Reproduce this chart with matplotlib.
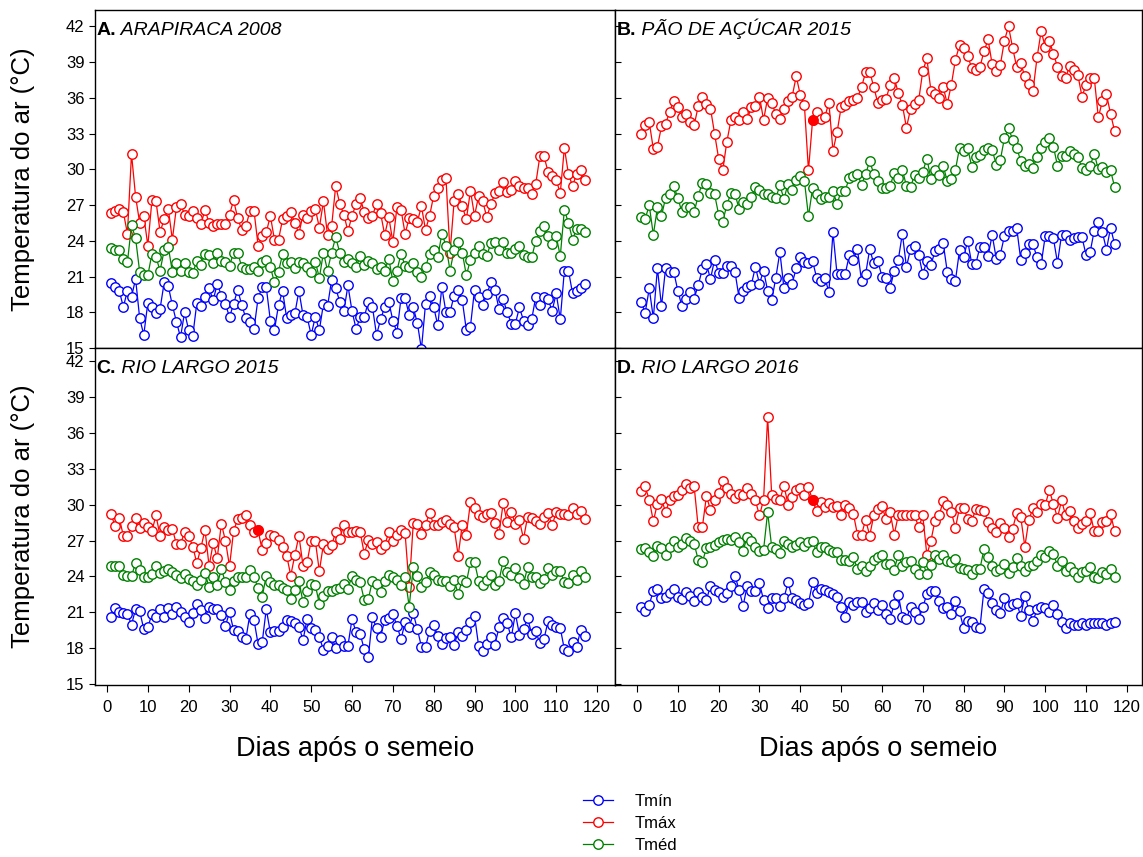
import matplotlib.pyplot as plt
import numpy as np

plt.rcParams['font.family'] = ['Liberation Sans', 'DejaVu Sans']

# dias apos o semeio
dias = np.arange(1, 118)

# A. Arapiraca 2008
a_tmax = [26.3, 26.5, 26.7, 26.4, 24.6, 31.3, 27.7, 25.5, 26.1, 23.6,
          27.4, 27.3, 24.75, 25.8, 26.7, 24.1, 26.8, 27.1, 26.2, 26.1,
          26.5, 25.9, 25.4, 26.6, 25.5, 25.2, 25.4, 25.4, 25.4, 26.2,
          27.4, 25.9, 24.9, 25.2, 26.5, 26.5, 23.6, 24.4, 24.7, 26.1,
          24.1, 24.1, 25.8, 26.1, 26.4, 25.5, 24.6, 26.2, 25.9, 26.5,
          26.7, 25.1, 27.3, 24.5, 25.2, 28.6, 27.1, 26.2, 24.8, 26.1,
          27.1, 27.6, 26.4, 25.9, 26.1, 27.1, 26.3, 24.5, 26.0, 23.9,
          26.8, 26.6, 24.6, 25.9, 25.8, 25.6, 26.9, 24.9, 26.1, 27.8,
          28.4, 29.1, 29.3, 23.0, 27.3, 27.95, 26.9, 25.8, 28.2, 26.1,
          27.75, 27.3, 26.0, 27.05, 28.0, 28.2, 28.9, 28.1, 28.3, 29.0,
          28.6, 28.4, 28.4, 27.9, 28.8, 31.1, 31.1, 29.8, 29.4, 29.1,
          28.0, 31.8, 29.6, 28.6, 29.6, 29.9, 29.1]
a_tmed = [23.4, 23.25, 23.25, 22.5, 22.2, 25.3, 24.2, 21.4, 21.1, 21.1,
          22.9, 22.6, 21.5, 23.2, 23.5, 21.4, 22.1, 21.5, 22.1, 21.4,
          21.3, 22.3, 22.0, 22.9, 22.8, 22.1, 23.0, 22.3, 22.2, 21.9,
          23.0, 23.0, 21.8, 21.6, 21.6, 21.8, 21.5, 22.25, 22.4, 21.8,
          20.5, 21.4, 22.9, 22.1, 22.2, 21.7, 22.2, 22.1, 21.8, 21.4,
          22.25, 20.9, 23.0, 21.5, 23.0, 24.3, 23.0, 22.2, 22.5, 22.1,
          21.8, 22.7, 22.0, 22.3, 22.1, 21.6, 21.8, 21.5, 22.5, 20.6,
          21.5, 22.9, 21.9, 21.8, 22.1, 21.4, 21.0, 21.8, 22.9, 23.2,
          22.6, 24.6, 23.6, 21.5, 23.2, 23.9, 23.0, 21.1, 22.4, 23.0,
          23.6, 22.9, 22.75, 23.8, 23.9, 23.25, 23.9, 23.0, 23.0, 23.3,
          23.6, 22.8, 22.6, 22.6, 24.0, 24.8, 25.2, 24.4, 23.7, 24.4,
          22.7, 26.6, 25.5, 24.1, 25.0, 25.0, 24.7]
a_tmin = [20.45, 20.1, 19.8, 18.45, 19.8, 19.3, 20.8, 17.5, 16.1, 18.8,
          18.4, 17.9, 18.3, 20.5, 20.2, 18.6, 17.2, 15.9, 18.0, 16.5,
          16.0, 18.8, 18.5, 19.3, 20.0, 19.0, 20.4, 19.4, 18.7, 17.6,
          18.7, 19.9, 18.6, 17.5, 17.2, 16.6, 19.2, 20.1, 20.1, 17.3,
          16.5, 18.6, 19.8, 17.5, 17.8, 17.9, 19.8, 17.75, 17.6, 16.1,
          17.6, 16.5, 18.7, 18.5, 20.7, 20.0, 18.9, 18.1, 20.25, 18.1,
          16.6, 17.6, 17.6, 18.9, 18.45, 16.1, 17.4, 18.45, 18.9, 17.3,
          16.3, 19.2, 19.2, 17.75, 18.4, 17.1, 14.9, 18.7, 19.4, 18.45,
          16.9, 20.1, 18.0, 18.0, 19.4, 19.9, 19.0, 16.5, 16.8, 19.9,
          19.3, 18.6, 19.5, 20.5, 19.9, 18.25, 19.1, 18.0, 17.05, 17.05,
          18.4, 17.3, 16.9, 17.4, 19.3, 18.6, 19.3, 19.1, 18.1, 19.6,
          17.4, 21.5, 21.5, 19.6, 19.8, 20.0, 20.4]

# B. Pao de Acucar 2015
b_tmax = [33.0, 33.7, 33.96, 31.7, 31.9, 33.6, 33.8, 34.85, 35.75, 35.2,
          34.35, 34.6, 33.95, 33.7, 35.3, 36.1, 35.5, 35.1, 33.0, 30.9,
          29.9, 32.3, 34.1, 34.35, 34.1, 34.8, 34.2, 35.2, 35.3, 36.1,
          34.15, 35.97, 35.6, 34.6, 34.25, 35.05, 35.7, 36.1, 37.8, 36.25,
          35.4, 29.9, 34.1, 34.85, 34.2, 34.4, 35.6, 31.55, 33.1, 35.2,
          35.4, 35.7, 35.8, 36.0, 36.9, 38.15, 38.2, 36.9, 35.55, 35.8,
          35.9, 37.1, 37.7, 36.4, 35.4, 33.5, 35.05, 35.5, 35.8, 38.25,
          39.3, 36.6, 36.3, 35.97, 36.9, 35.5, 37.1, 39.2, 40.4, 40.16,
          39.5, 38.5, 38.3, 38.6, 39.9, 40.9, 38.8, 38.26, 38.76, 40.8,
          42.0, 40.2, 38.6, 38.9, 37.8, 37.2, 36.6, 39.4, 41.6, 40.24,
          40.8, 39.7, 38.6, 37.8, 37.7, 38.7, 38.3, 37.9, 36.1, 37.1,
          37.7, 37.7, 34.35, 35.74, 36.3, 34.65, 33.2]
b_tmed = [25.97, 25.85, 26.97, 24.5, 26.8, 26.1, 27.6, 27.9, 28.6, 27.6,
          26.4, 26.8, 26.8, 26.4, 27.8, 28.85, 28.8, 28.0, 27.9, 26.2,
          25.6, 27.0, 28.0, 27.9, 26.7, 27.25, 27.1, 27.7, 28.5, 28.3,
          27.9, 27.9, 27.7, 27.6, 28.65, 27.5, 28.8, 28.3, 29.1, 29.4,
          29.05, 26.05, 28.4, 27.9, 27.5, 27.65, 27.65, 28.15, 27.1, 28.15,
          28.2, 29.3, 29.4, 29.6, 28.7, 29.6, 30.7, 29.6, 29.0, 28.4,
          28.4, 28.6, 29.7, 29.3, 29.96, 28.6, 28.5, 29.55, 29.3, 29.8,
          30.9, 29.2, 29.9, 29.55, 30.3, 29.0, 29.2, 29.96, 31.8, 31.55,
          31.8, 30.2, 31.0, 31.2, 31.6, 31.8, 31.6, 30.4, 30.8, 32.6,
          33.45, 32.5, 31.8, 30.7, 30.3, 30.45, 30.15, 31.0, 31.8, 32.3,
          32.6, 31.9, 30.3, 31.1, 31.1, 31.5, 31.3, 31.0, 30.15, 29.96,
          30.3, 31.3, 30.0, 30.2, 29.8, 29.9, 28.5]
b_tmin = [18.9, 17.95, 20.0, 17.5, 21.7, 18.5, 21.7, 21.4, 21.4, 19.8,
          18.5, 19.15, 19.7, 19.15, 20.3, 21.6, 22.05, 20.8, 22.4, 21.3,
          21.3, 21.85, 21.85, 21.4, 19.2, 19.8, 20.1, 20.3, 21.8, 20.4,
          21.5, 19.8, 19.0, 20.9, 23.06, 20.0, 20.9, 20.4, 21.7, 22.6,
          22.2, 22.1, 22.3, 20.9, 20.6, 20.9, 19.7, 24.7, 21.2, 21.2,
          21.2, 22.8, 22.4, 23.3, 20.6, 21.2, 23.3, 22.1, 22.3, 21.0,
          20.9, 20.0, 21.5, 22.4, 24.6, 21.8, 23.3, 23.6, 22.8, 21.2,
          22.3, 22.0, 23.1, 23.3, 23.8, 21.4, 20.75, 20.66, 23.2, 22.6,
          24.0, 22.05, 22.05, 23.5, 23.45, 22.7, 24.5, 22.5, 22.84, 24.4,
          24.85, 24.8, 25.1, 22.4, 23.0, 23.7, 23.7, 22.6, 22.05, 24.4,
          24.4, 24.2, 22.15, 24.5, 24.5, 24.1, 24.2, 24.3, 24.3, 22.8,
          23.06, 24.85, 25.6, 24.7, 23.26, 25.1, 23.7]

# C. Rio Largo 2015
c_tmax = [29.18, 28.2, 28.9, 27.4, 27.4, 28.2, 28.9, 28.03, 28.45, 28.1,
          27.8, 29.1, 27.37, 28.1, 27.9, 27.98, 26.7, 26.7, 27.7, 27.4,
          26.5, 25.1, 26.4, 27.9, 24.85, 26.78, 25.55, 28.4, 27.0, 24.85,
          27.8, 28.8, 28.9, 29.1, 28.26, 27.7, 27.84, 26.2, 26.8, 27.5,
          27.4, 27.06, 26.44, 25.74, 24.07, 25.8, 27.4, 24.9, 25.2, 27.0,
          27.0, 24.43, 26.7, 26.3, 26.6, 27.7, 27.14, 28.34, 27.7, 27.7,
          27.8, 27.7, 25.9, 27.06, 26.7, 26.86, 26.3, 26.6, 27.7, 26.95,
          27.5, 27.84, 27.6, 23.09, 28.45, 28.4, 27.56, 28.34, 29.3, 28.34,
          28.34, 28.54, 28.7, 28.4, 28.1, 25.74, 28.34, 27.5, 30.2, 29.74,
          29.1, 29.0, 29.18, 29.3, 28.45, 27.56, 30.1, 28.54, 29.38, 28.4,
          28.68, 27.14, 29.0, 28.9, 28.6, 28.4, 29.0, 29.3, 28.26, 29.38,
          29.18, 29.24, 29.1, 29.74, 29.24, 29.46, 28.8]
c_tmed = [24.9, 24.9, 24.9, 24.15, 24.07, 24.07, 25.1, 24.55, 23.93, 23.93,
          24.2, 24.9, 24.27, 24.43, 24.63, 24.35, 24.15, 23.88, 24.2, 23.79,
          23.65, 23.3, 23.7, 24.27, 23.1, 23.93, 23.3, 24.63, 23.5, 22.87,
          23.65, 23.93, 23.93, 23.99, 24.57, 23.99, 23.0, 22.3, 24.07, 23.5,
          23.3, 23.3, 23.0, 22.87, 22.1, 22.87, 23.65, 21.83, 22.8, 23.37,
          23.3, 21.7, 22.4, 22.76, 22.8, 22.95, 23.0, 23.37, 22.95, 24.07,
          23.7, 23.5, 22.03, 22.1, 23.65, 23.37, 22.67, 23.6, 24.15, 23.93,
          23.7, 23.3, 23.93, 21.47, 24.77, 24.07, 23.15, 23.5, 24.35, 24.15,
          23.7, 23.6, 23.65, 23.23, 23.7, 22.53, 23.7, 23.5, 25.19, 25.19,
          23.65, 23.3, 23.7, 24.15, 23.3, 23.65, 25.3, 24.35, 24.15, 24.7,
          23.87, 23.37, 24.77, 23.99, 23.99, 23.43, 23.79, 24.7, 24.15, 24.49,
          24.43, 23.5, 23.43, 24.15, 23.7, 24.43, 23.93]
c_tmin = [20.63, 21.4, 21.0, 20.9, 20.86, 19.96, 21.27, 21.1, 19.6, 19.74,
          20.86, 20.58, 21.27, 20.63, 21.4, 20.86, 21.47, 21.0, 20.58, 20.16,
          20.9, 21.7, 21.2, 20.5, 21.47, 21.27, 21.27, 20.8, 19.88, 21.0,
          19.52, 19.4, 18.96, 18.76, 20.86, 20.35, 18.34, 18.48, 21.27, 19.32,
          19.46, 19.46, 19.74, 20.35, 20.3, 20.07, 19.8, 18.68, 20.44, 19.68,
          19.52, 18.96, 17.84, 18.2, 18.96, 18.0, 18.68, 18.2, 18.2, 20.44,
          19.32, 19.18, 17.9, 17.28, 20.58, 19.68, 18.96, 20.35, 20.5, 20.86,
          19.88, 18.76, 20.16, 19.74, 20.9, 19.6, 18.12, 18.12, 19.46, 19.96,
          19.04, 18.34, 18.85, 18.96, 18.29, 19.32, 19.04, 19.52, 20.16, 20.72,
          18.2, 17.73, 18.34, 18.96, 18.29, 19.74, 20.52, 20.07, 18.9, 20.9,
          19.13, 19.6, 20.52, 19.18, 19.4, 18.4, 18.76, 20.24, 19.96, 19.74,
          19.68, 17.9, 17.73, 18.48, 18.12, 19.52, 19.04]

# D. Rio Largo 2016
d_tmax = [31.13, 31.52, 30.4, 28.62, 30.07, 30.49, 29.37, 30.4, 30.7, 30.77,
          31.24, 31.75, 31.41, 31.52, 28.1, 28.1, 30.7, 29.57, 30.4, 30.97,
          31.97, 31.41, 30.9, 30.57, 30.85, 30.77, 31.41, 30.85, 30.35, 29.1,
          30.4, 37.33, 30.77, 30.49, 30.4, 31.6, 30.0, 30.63, 31.24, 31.41,
          30.77, 31.47, 30.35, 29.46, 30.21, 29.79, 30.13, 29.79, 29.85, 29.1,
          30.0, 29.74, 29.23, 27.5, 27.5, 28.73, 27.42, 29.1, 29.65, 29.85,
          28.8, 29.37, 27.5, 29.1, 29.1, 29.1, 29.1, 29.1, 28.1, 29.1,
          25.8, 27.0, 28.67, 29.1, 30.3, 30.0, 29.37, 28.06, 29.74, 29.74,
          28.8, 28.62, 29.65, 29.57, 29.51, 28.53, 28.06, 27.7, 28.45, 28.06,
          27.28, 27.98, 29.29, 28.95, 26.5, 28.73, 29.74, 29.37, 30.07, 30.0,
          31.19, 30.07, 28.9, 30.35, 29.1, 29.46, 28.62, 28.06, 28.39, 28.62,
          29.29, 27.78, 27.78, 28.53, 28.62, 29.23, 27.78]
d_tmed = [26.3, 26.38, 26.02, 25.74, 26.58, 26.38, 25.83, 26.44, 26.94, 26.44,
          26.72, 27.22, 26.94, 26.72, 25.38, 25.18, 26.38, 26.44, 26.66, 26.86,
          27.05, 27.14, 27.05, 27.28, 26.86, 26.16, 27.33, 26.94, 26.5, 26.16,
          26.22, 29.37, 26.44, 26.3, 25.94, 26.94, 26.72, 26.44, 26.66, 26.86,
          26.58, 26.86, 26.94, 26.02, 26.44, 26.44, 26.22, 26.02, 26.02, 25.38,
          25.38, 25.32, 25.6, 24.62, 24.9, 24.43, 24.9, 25.38, 25.6, 25.83,
          25.04, 25.04, 24.54, 25.83, 24.9, 25.18, 25.27, 24.62, 24.2, 25.18,
          24.2, 24.99, 25.83, 25.46, 25.83, 25.32, 25.18, 25.46, 24.71, 24.62,
          24.54, 24.2, 24.62, 24.62, 26.3, 25.6, 24.9, 24.43, 24.62, 25.04,
          24.26, 24.82, 25.55, 24.9, 24.43, 24.9, 24.99, 25.32, 25.83, 25.66,
          26.16, 25.88, 24.9, 25.27, 24.43, 24.76, 24.34, 23.93, 24.34, 24.43,
          24.76, 23.98, 23.87, 24.34, 24.2, 24.62, 23.98]
d_tmin = [21.47, 21.13, 21.63, 22.81, 22.95, 22.2, 22.31, 22.58, 22.95, 22.31,
          22.11, 22.67, 22.39, 21.92, 22.67, 22.31, 22.03, 23.23, 22.86, 22.67,
          22.25, 22.58, 23.23, 24.07, 22.86, 21.55, 23.23, 22.81, 22.75, 23.42,
          22.03, 21.36, 22.2, 22.2, 21.55, 22.2, 23.5, 22.2, 22.03, 21.75,
          21.63, 21.75, 23.5, 22.58, 22.95, 22.86, 22.67, 22.53, 22.25, 21.41,
          20.63, 21.83, 21.63, 21.83, 21.83, 20.99, 21.36, 21.75, 21.19, 21.63,
          20.85, 20.43, 21.69, 22.47, 20.63, 20.43, 21.47, 20.99, 20.43, 21.41,
          22.53, 22.81, 22.75, 21.97, 21.36, 21.41, 20.85, 21.97, 21.08, 19.68,
          20.24, 20.15, 19.74, 19.68, 22.95, 22.58, 21.75, 21.19, 20.91, 22.2,
          21.55, 21.69, 21.75, 20.71, 22.39, 21.19, 20.24, 21.27, 21.41, 21.36,
          20.99, 21.63, 20.85, 20.15, 19.68, 20.07, 19.96, 19.96, 20.07, 19.96,
          20.07, 20.07, 20.07, 20.07, 19.96, 20.07, 20.15]

# dia destacado (ponto cheio) de Tmax em cada painel
destaque = {'B': 43, 'C': 37, 'D': 43}

paineis = [
    ('A', 'ARAPIRACA 2008', a_tmin, a_tmax, a_tmed),
    ('B', 'PÃO DE AÇÚCAR 2015', b_tmin, b_tmax, b_tmed),
    ('C', 'RIO LARGO 2015', c_tmin, c_tmax, c_tmed),
    ('D', 'RIO LARGO 2016', d_tmin, d_tmax, d_tmed),
]

cores = {'Tmín': '#0000ff', 'Tmáx': '#ff0000', 'Tméd': '#008000'}

fig = plt.figure(figsize=(11.43, 8.57), dpi=100)

W, H = 1143.0, 857.0
posicoes = {
    'A': (95, 10, 615, 348),
    'B': (615, 10, 1142, 348),
    'C': (95, 348, 615, 685),
    'D': (615, 348, 1142, 685),
}
xlims = {'A': (-2.94, 124.4), 'C': (-2.94, 124.4),
         'B': (-5.39, 123.7), 'D': (-5.39, 123.7)}
ylims = {'A': (15.0, 43.37), 'B': (15.0, 43.37),
         'C': (14.92, 43.1), 'D': (14.92, 43.1)}

linhas = []
for letra, nome, tmin, tmax, tmed in paineis:
    x0, y0, x1, y1 = posicoes[letra]
    ax = fig.add_axes([x0 / W, 1 - y1 / H, (x1 - x0) / W, (y1 - y0) / H])
    linhas = []
    for rotulo, serie in (('Tmín', tmin), ('Tmáx', tmax), ('Tméd', tmed)):
        l, = ax.plot(dias, serie, '-o', color=cores[rotulo], lw=0.9,
                     ms=6.8, mfc='white', mew=1.0, label=rotulo)
        linhas.append(l)
    if letra in destaque:
        d = destaque[letra]
        ax.plot(d, tmax[d - 1], 'o', color='#ff0000', ms=6.8, zorder=5)

    ax.set_xlim(*xlims[letra])
    ax.set_ylim(*ylims[letra])
    ax.set_yticks(np.arange(15, 43, 3))
    ax.set_xticks(np.arange(0, 121, 10))
    for s in ax.spines.values():
        s.set_linewidth(1.0)

    if letra in ('A', 'C'):
        ax.tick_params(axis='y', direction='out', length=4, labelsize=12)
        ax.set_ylabel('Temperatura do ar (°C)', fontsize=18.5, labelpad=22)
    else:
        ax.tick_params(axis='y', direction='in', length=4, labelleft=False)
    if letra in ('C', 'D'):
        ax.tick_params(axis='x', direction='out', length=5, pad=6,
                       labelsize=12)
        ax.set_xlabel('Dias após o semeio', fontsize=19.5, labelpad=15)
    else:
        ax.tick_params(axis='x', length=0, labelbottom=False)

    t = ax.text(0.003, 0.965, letra + '.', transform=ax.transAxes,
                fontsize=14, fontweight='bold', va='top', ha='left')
    ax.annotate(' ' + nome, xy=(1, 0), xycoords=t, fontsize=14,
                style='italic', va='bottom', ha='left')

fig.legend(linhas, ['Tmín', 'Tmáx', 'Tméd'], loc='upper left',
           bbox_to_anchor=(583 / W, 1 - 794 / H), frameon=False,
           fontsize=12, borderpad=0, borderaxespad=0, labelspacing=0.42,
           handlelength=1.8, handletextpad=1.3)

fig.savefig('out.png', dpi=100)
